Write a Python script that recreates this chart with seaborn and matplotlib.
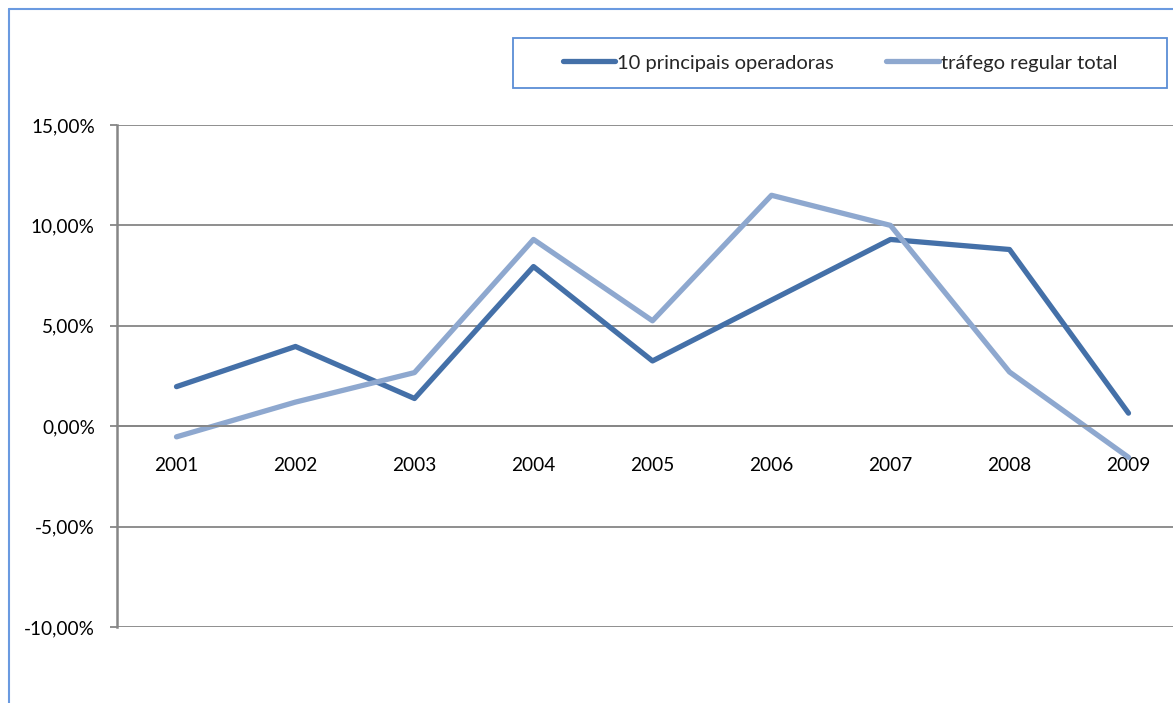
import matplotlib
matplotlib.use("Agg")
import matplotlib.pyplot as plt
import seaborn as sns
import pandas as pd
import numpy as np
from matplotlib.patches import Rectangle
from matplotlib.lines import Line2D
from matplotlib.ticker import FuncFormatter, FixedLocator

years = [2001, 2002, 2003, 2004, 2005, 2006, 2007, 2008, 2009]
top10 = [1.97, 3.97, 1.38, 7.95, 3.25, 6.28, 9.3, 8.8, 0.65]
total = [-0.53, 1.2, 2.67, 9.3, 5.25, 11.5, 10.0, 2.7, -1.55]
series_names = ["10 principais operadoras", "tráfego regular total"]
yticks = [-10, -5, 0, 5, 10, 15]

df = pd.DataFrame({
    "ano": years * 2,
    "valor": top10 + total,
    "serie": [series_names[0]] * len(years) + [series_names[1]] * len(years),
})

sns.set_theme(style="white")
plt.rcParams["font.family"] = ["Lato", "DejaVu Sans"]

W, H = 1173, 703
fig = plt.figure(figsize=(W / 100, H / 100), dpi=100)
ax = fig.add_axes([117 / W, 1 - 627 / H, (1188 - 117) / W, (627 - 125) / H])

palette = {series_names[0]: "#4470A8", series_names[1]: "#8EA8CF"}
sns.lineplot(data=df, x="ano", y="valor", hue="serie", palette=palette,
             linewidth=3.8, ax=ax, legend=False, solid_capstyle="round",
             hue_order=series_names)

ax.set_xlim(2000.5, 2009.5)
ax.set_ylim(-10, 15)
ax.set_xlabel("")
ax.set_ylabel("")

grid_c = "#868686"
ax.yaxis.set_major_locator(FixedLocator(yticks))
ax.yaxis.set_major_formatter(FuncFormatter(lambda v, p: f"{v:.2f}%".replace(".", ",")))
ax.grid(axis="y", color=grid_c, linewidth=1.3)
ax.set_axisbelow(True)

ax.xaxis.set_major_locator(FixedLocator(years))
ax.xaxis.set_minor_locator(FixedLocator([y + 0.5 for y in [2000] + years]))
ax.tick_params(axis="x", which="major", length=0, pad=22.5, labelsize=13.7, colors="black")
ax.tick_params(axis="x", which="minor", length=5, width=1.3, color=grid_c, direction="out")
ax.tick_params(axis="y", which="major", length=5, width=1.3, color=grid_c, pad=11,
               labelsize=13.7, labelcolor="black", left=True)

for s in ["top", "right"]:
    ax.spines[s].set_visible(False)
ax.spines["bottom"].set_position(("data", 0))
ax.spines["bottom"].set_color(grid_c)
ax.spines["bottom"].set_linewidth(1.3)
ax.spines["left"].set_color(grid_c)
ax.spines["left"].set_linewidth(1.8)

# Legend
handles = [Line2D([0], [0], color=palette[n], linewidth=3.8, solid_capstyle="round") for n in series_names]
leg = fig.legend(handles, series_names, loc="center", bbox_to_anchor=(840 / W, 1 - 63 / H),
                 ncol=2, frameon=False, fontsize=14.5, handlelength=2.6, handletextpad=0.1,
                 columnspacing=2.6)
fig.add_artist(Rectangle((513 / W, 1 - 88 / H), 654 / W, 50 / H, transform=fig.transFigure,
                         fill=False, edgecolor="#5B8ED6", linewidth=1.3))

# outer chart border (top and left visible)
bc = "#6A9AE0"
fig.add_artist(Line2D([8.5 / W, 8.5 / W], [0, 1 - 8.5 / H], transform=fig.transFigure, color=bc, linewidth=1.5))
fig.add_artist(Line2D([8.5 / W, 1], [1 - 8.5 / H, 1 - 8.5 / H], transform=fig.transFigure, color=bc, linewidth=1.5))

fig.savefig("out.png", dpi=100)
